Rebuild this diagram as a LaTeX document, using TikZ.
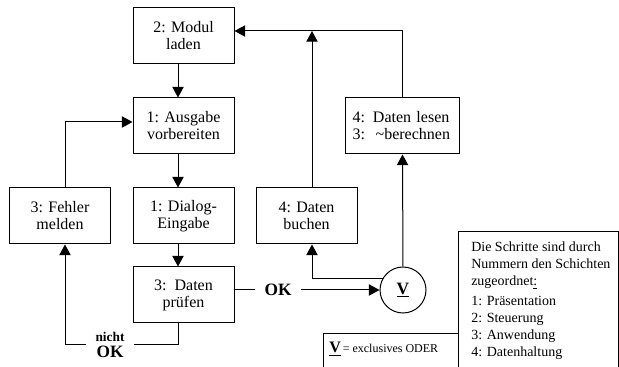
\documentclass[tikz,border=0pt]{standalone}
\usepackage{fontspec}
\setmainfont{Liberation Serif}
\usetikzlibrary{arrows.meta}

\begin{document}
\begin{tikzpicture}[x=0.75pt,y=-0.75pt,
	box/.style={draw, line width=0.75pt, minimum width=75.75pt, minimum height=42pt, align=center, inner sep=2pt, font=\fontsize{12}{12.75}\selectfont},
	pfeil/.style={line width=0.75pt, -{Triangle[length=8pt,width=8.5pt]}},
	linie/.style={line width=0.75pt}]
	\useasboundingbox (0,0) rectangle (619,367);
	% Hilfslinien
	\coordinate (mitte) at (178,0);
	\coordinate (fspalte) at (65,0);
	\coordinate (bspalte) at (312,0);
	\coordinate (oben) at (0,31);
	% Schritte
	\node[box] (modul) at (183.5,36) {2: Modul\\laden};
	\node[box] (ausgabe) at (183.5,126) {1: Ausgabe\\vorbereiten};
	\node[box] (fehler) at (60,216) {3: Fehler\\melden};
	\node[box] (dialog) at (183.5,216) {1: Dialog-\\Eingabe};
	\node[box] (pruefen) at (183.5,295) {3:\ \ Daten\\prüfen};
	\node[box] (buchen) at (306.5,216) {4: Daten\\buchen};
	\node[box, align=left, text width=75pt, inner xsep=5pt] (lesen) at (402.5,126) {4: Daten lesen\\3:\ \ \textasciitilde berechnen};
	\node[draw, circle, line width=0.75pt, minimum size=34.5pt, inner sep=0pt] (xor) at (403,290) {\fontsize{13}{13}\selectfont\bfseries\underline{V}};
	\node[align=center, inner xsep=7pt, inner ysep=0pt] (nichtok) at (110,345) {{\fontsize{10}{11}\selectfont\bfseries nicht}\\{\fontsize{13}{13}\selectfont\bfseries OK}};
	% Verbindungen
	\draw[pfeil] (modul.south -| mitte) -- (ausgabe.north -| mitte);
	\draw[pfeil] (ausgabe.south -| mitte) -- (dialog.north -| mitte);
	\draw[pfeil] (dialog.south -| mitte) -- (pruefen.north -| mitte);
	\draw[linie] (pruefen.south -| mitte) |- (nichtok.east);
	\draw[pfeil] (nichtok.west) -| (fehler.south -| fspalte);
	\draw[pfeil] (fehler.north -| fspalte) |- ([yshift=3pt]ausgabe.west);
	\draw[pfeil] (pruefen.east |- xor) -- node[pos=.3, fill=white, inner xsep=7pt, font=\fontsize{13}{13}\selectfont\bfseries] (ok) {OK} (xor);
	\draw[pfeil] (xor.north) -- (lesen.south);
	\draw[pfeil] (xor.150) -| (buchen.south -| bspalte);
	\draw[pfeil] (lesen.north) |- (modul.east |- oben);
	\draw[pfeil] (buchen.north -| bspalte) -- (bspalte |- oben);
	% Legende
	\draw[linie] (458,367) |- (618,232) -- (618,367);
	\draw[linie] (323,367) |- (458,334);
	\node[anchor=north west, align=left, inner sep=0pt, font=\fontsize{10.5}{12.75}\selectfont] (legende) at (471,242) {Die Schritte sind durch\\Nummern den Schichten\\zugeordnet\underline{:}\\[2.25pt]1: Präsentation\\2: Steuerung\\3: Anwendung\\4: Datenhaltung};
	\node[anchor=west, inner sep=0pt] (xorlegende) at (329,349) {{\fontsize{12}{12}\selectfont\bfseries\underline{V}}{\fontsize{9}{10}\selectfont\,= exclusives ODER}};
\end{tikzpicture}
\end{document}
